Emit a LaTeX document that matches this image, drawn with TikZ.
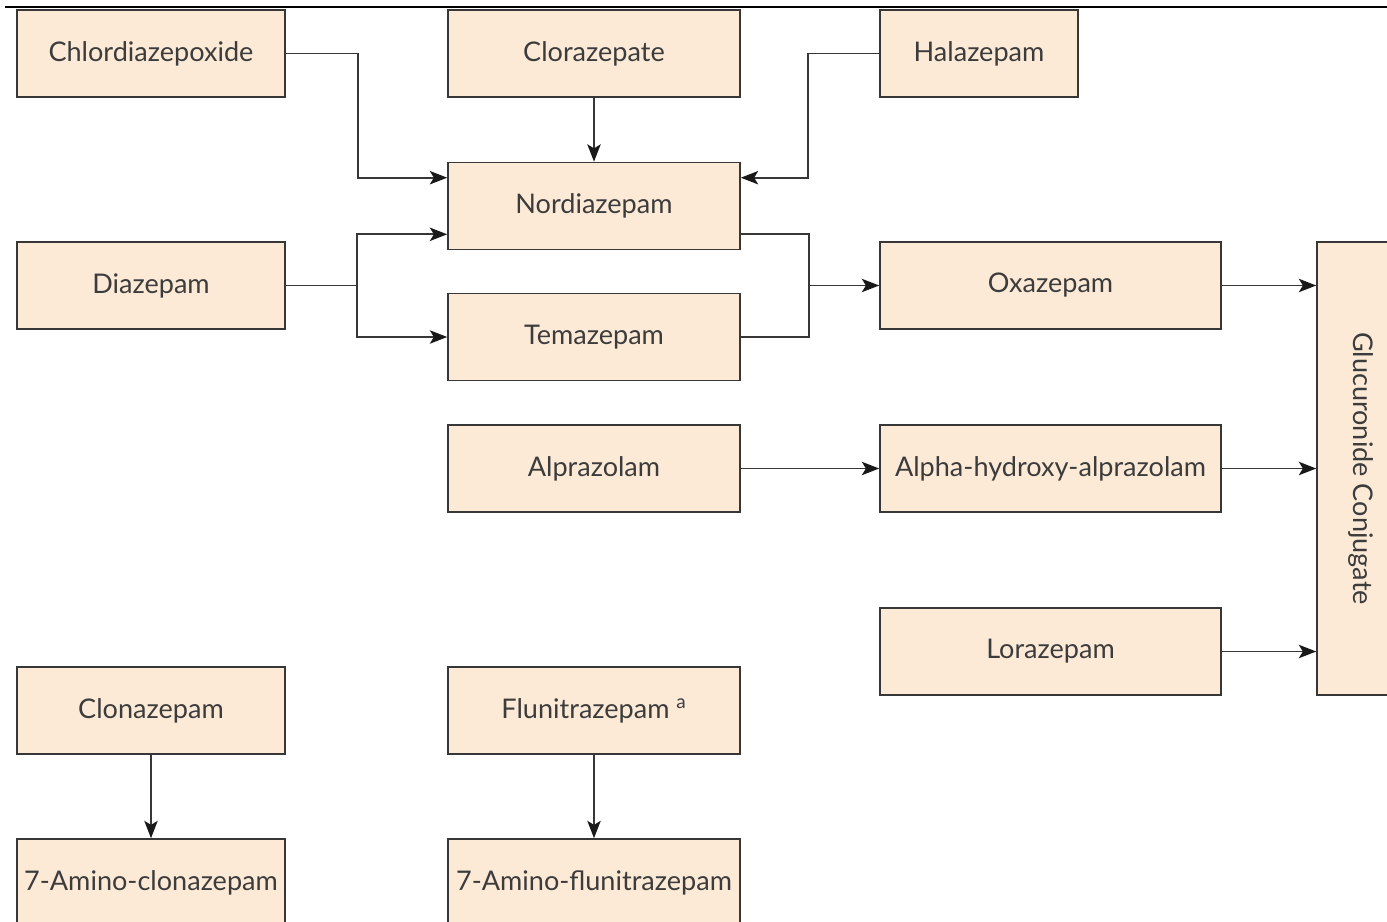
\documentclass[tikz,border=0pt]{standalone}
\usepackage{fontspec}
\setmainfont{Lato}
\usetikzlibrary{arrows.meta,calc}
\definecolor{boxfill}{RGB}{252,234,215}
\definecolor{boxline}{RGB}{55,55,55}
\definecolor{txt}{RGB}{60,60,60}
\tikzset{
  drug/.style={draw=boxline,line width=1.2pt,fill=boxfill,text=txt,
    minimum height=65.25pt,inner sep=0pt,font=\fontsize{20.3}{24}\selectfont},
  wa/.style={drug,minimum width=201pt},
  wb/.style={drug,minimum width=219pt},
  wc/.style={drug,minimum width=148.5pt},
  wd/.style={drug,minimum width=255.75pt},
  conn/.style={draw=boxline,line width=1.4pt},
  arr/.style={conn,-{Stealth[length=13pt,width=10pt,inset=3pt,color=black!90]}},
}
\begin{document}
\begin{tikzpicture}[x=0.75pt,y=-0.75pt]
\clip (0,0) rectangle (1387,921);
\fill[white] (0,0) rectangle (1387,921);
\draw[line width=2.2pt,black] (5,7) -- (1387,7);
% nodes
\node[wa] (chl) at (151,53.5) {Chlordiazepoxide};
\node[wb] (clo) at (594,53.5) {Clorazepate};
\node[wc] (hal) at (979,53.5) {Halazepam};
\node[wb] (nor) at (594,206) {Nordiazepam};
\node[wa] (dia) at (151,285.5) {Diazepam};
\node[wb] (tem) at (594,337) {Temazepam};
\node[wd] (oxa) at (1050.5,285.5) {Oxazepam};
\node[wb] (alp) at (594,468.5) {Alprazolam};
\node[wd] (aha) at (1050.5,468.5) {Alpha-hydroxy-alprazolam};
\node[wd] (lor) at (1050.5,651.5) {Lorazepam};
\node[drug,minimum width=339.75pt,minimum height=65.25pt,rotate=-90] (glu) at (1360.5,468.5) {Glucuronide Conjugate};
\node[wa] (clz) at (151,710.5) {Clonazepam};
\node[wb] (flu) at (594,710.5) {Flunitrazepam \textsuperscript{a}};
\node[wa] (acl) at (151,882.5) {7-Amino-clonazepam};
\node[wb] (afl) at (594,882.5) {7-Amino-flunitrazepam};
% junctions
\coordinate (dj) at (357,285.5);
\coordinate (oj) at (809,285.5);
% connectors
\draw[arr] (chl.east) -- ++(72,0) |- ([yshift=-12pt]nor.north west);
\draw[arr] (clo.south) -- (nor.north);
\draw[arr] (hal.west) -- ++(-71,0) |- ([yshift=-12pt]nor.north east);
\draw[conn] (dia.east) -- (dj);
\draw[arr] (dj) |- ([yshift=12pt]nor.south west);
\draw[arr] (dj) |- (tem.west);
\draw[conn] ([yshift=12pt]nor.south east) -| (oj) |- (tem.east);
\draw[arr] (oj) -- (oxa.west);
\draw[arr] (oxa.east) -- (oxa.east -| glu.south);
\draw[arr] (alp.east) -- (aha.west);
\draw[arr] (aha.east) -- (aha.east -| glu.south);
\draw[arr] (lor.east) -- (lor.east -| glu.south);
\draw[arr] (clz.south) -- (acl.north);
\draw[arr] (flu.south) -- (afl.north);
\end{tikzpicture}
\end{document}
